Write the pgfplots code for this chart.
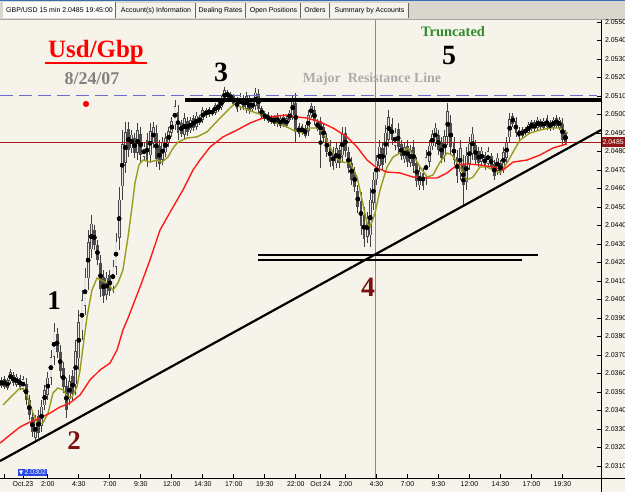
\documentclass[border=0pt]{standalone}
\usepackage{pgfplots}
\pgfplotsset{compat=1.18}
\usepackage{pgfplotstable}
\usepackage{fontspec}
\setmainfont{Liberation Serif}
\newfontfamily\arial{Liberation Sans}
\newfontfamily\dejavu{DejaVu Sans}
\definecolor{bg}{HTML}{F6F4EA}
\definecolor{tabbar}{HTML}{D9D6CD}
\definecolor{tabfill}{HTML}{F3F2ED}
\definecolor{ma1}{HTML}{9A9A1E}
\definecolor{ma2}{HTML}{FF1A1A}
\definecolor{resblue}{HTML}{6C6CD0}
\definecolor{priceline}{HTML}{A81818}
\definecolor{crossline}{HTML}{C07272}
\definecolor{maroon}{HTML}{7A1010}
\definecolor{truncgreen}{HTML}{2E8B2E}
\definecolor{lowblue}{HTML}{2848E0}
\definecolor{pricebox}{HTML}{8E1616}
\definecolor{topblue}{HTML}{3A6EB5}
\definecolor{hollow}{HTML}{E4E4E4}

\pgfplotstableread{
t o h l c
-1.75 2.03534 2.03581 2.03522 2.03569
-1.5 2.03573 2.03587 2.03516 2.03530
-1.25 2.03524 2.03576 2.03511 2.03563
-1.0 2.03560 2.03624 2.03544 2.03608
-0.75 2.03593 2.03608 2.03533 2.03548
-0.5 2.03541 2.03597 2.03527 2.03583
-0.25 2.03576 2.03592 2.03511 2.03527
0 2.03517 2.03587 2.03500 2.03570
0.25 2.03547 2.03576 2.03430 2.03459
0.5 2.03457 2.03484 2.03349 2.03376
0.75 2.03365 2.03392 2.03257 2.03284
1.0 2.03254 2.03376 2.03224 2.03346
1.25 2.03373 2.03403 2.03252 2.03282
1.5 2.03319 2.03457 2.03284 2.03422
1.75 2.03430 2.03538 2.03403 2.03511
2.0 2.03487 2.03608 2.03457 2.03578
2.25 2.03576 2.03727 2.03538 2.03689
2.5 2.03691 2.03873 2.03646 2.03828
2.75 2.03814 2.03846 2.03684 2.03716
3.0 2.03718 2.03754 2.03576 2.03612
3.25 2.03629 2.03662 2.03495 2.03528
3.5 2.03533 2.03576 2.03360 2.03403
3.75 2.03462 2.03592 2.03430 2.03560
4.0 2.03587 2.03619 2.03457 2.03489
4.25 2.03543 2.03781 2.03484 2.03722
4.5 2.03684 2.03943 2.03619 2.03878
4.75 2.03835 2.04051 2.03781 2.03997
5.0 2.03967 2.04170 2.03916 2.04119
5.25 2.04116 2.04376 2.04051 2.04311
5.5 2.04271 2.04457 2.04224 2.04410
5.75 2.04376 2.04403 2.04268 2.04295
6.0 2.04295 2.04322 2.04187 2.04214
6.25 2.04196 2.04241 2.04014 2.04059
6.5 2.04124 2.04160 2.03981 2.04017
6.75 2.04027 2.04149 2.03997 2.04119
7.0 2.04132 2.04160 2.04019 2.04047
7.25 2.04071 2.04214 2.04035 2.04178
7.5 2.04178 2.04359 2.04133 2.04314
7.75 2.04336 2.04608 2.04268 2.04540
8.0 2.04614 2.04916 2.04538 2.04840
8.25 2.04739 2.04960 2.04684 2.04905
8.5 2.04922 2.04960 2.04770 2.04808
8.75 2.04817 2.04916 2.04792 2.04891
9.0 2.04873 2.04900 2.04765 2.04792
9.25 2.04794 2.04954 2.04754 2.04914
9.5 2.04894 2.04932 2.04743 2.04781
9.75 2.04772 2.04846 2.04754 2.04828
10.0 2.04863 2.04900 2.04716 2.04753
10.25 2.04781 2.04954 2.04738 2.04911
10.5 2.04847 2.04960 2.04819 2.04932
10.75 2.04898 2.04943 2.04716 2.04761
11.0 2.04830 2.04862 2.04700 2.04732
11.25 2.04757 2.04879 2.04727 2.04849
11.5 2.04796 2.04900 2.04770 2.04874
11.75 2.04846 2.04932 2.04824 2.04910
12.0 2.04901 2.04987 2.04879 2.04965
12.25 2.04948 2.05078 2.04916 2.05046
12.5 2.05013 2.05051 2.04862 2.04900
12.75 2.04952 2.04970 2.04879 2.04897
13.0 2.04891 2.05008 2.04862 2.04979
13.25 2.04966 2.04987 2.04884 2.04905
13.5 2.04917 2.04987 2.04900 2.04970
13.75 2.04980 2.04997 2.04911 2.04928
14.0 2.04936 2.05014 2.04916 2.04994
14.25 2.04986 2.04997 2.04943 2.04954
14.5 2.04971 2.05041 2.04954 2.05024
14.75 2.05024 2.05035 2.04981 2.04992
15.0 2.04998 2.05041 2.04987 2.05030
15.25 2.05026 2.05035 2.04992 2.05001
15.5 2.05010 2.05062 2.04997 2.05049
15.75 2.05057 2.05068 2.05014 2.05025
16.0 2.05039 2.05100 2.05024 2.05085
16.25 2.05079 2.05149 2.05062 2.05132
16.5 2.05122 2.05132 2.05084 2.05094
16.75 2.05111 2.05122 2.05068 2.05079
17.0 2.05098 2.05111 2.05046 2.05059
17.25 2.05079 2.05095 2.05014 2.05030
17.5 2.05042 2.05116 2.05024 2.05098
17.75 2.05089 2.05105 2.05024 2.05040
18.0 2.05031 2.05122 2.05008 2.05099
18.25 2.05081 2.05100 2.05003 2.05022
18.5 2.05029 2.05089 2.05014 2.05074
18.75 2.05048 2.05143 2.05024 2.05119
19.0 2.05111 2.05138 2.05003 2.05030
19.25 2.05033 2.05046 2.04981 2.04994
19.5 2.05008 2.05019 2.04965 2.04976
19.75 2.05002 2.05014 2.04954 2.04966
20.0 2.04987 2.04997 2.04949 2.04959
20.25 2.04950 2.04997 2.04938 2.04985
20.5 2.04993 2.05008 2.04932 2.04947
20.75 2.04940 2.04992 2.04927 2.04979
21.0 2.04989 2.05003 2.04932 2.04946
21.25 2.04940 2.04992 2.04927 2.04979
21.5 2.04973 2.05024 2.04960 2.05011
21.75 2.04997 2.05105 2.04970 2.05078
22.0 2.05063 2.05116 2.04851 2.04904
22.25 2.04939 2.04954 2.04879 2.04894
22.5 2.04901 2.04949 2.04889 2.04937
22.75 2.04929 2.04943 2.04873 2.04887
23.0 2.04912 2.05024 2.04884 2.04996
23.25 2.04997 2.05062 2.04981 2.05046
23.5 2.05025 2.05046 2.04943 2.04964
23.75 2.04963 2.04976 2.04911 2.04924
24.0 2.04965 2.04987 2.04711 2.04890
24.25 2.04933 2.04954 2.04851 2.04872
24.5 2.04874 2.04900 2.04770 2.04796
24.75 2.04833 2.04862 2.04716 2.04745
25.0 2.04799 2.04824 2.04700 2.04725
25.25 2.04738 2.04846 2.04711 2.04819
25.5 2.04810 2.04835 2.04711 2.04736
25.75 2.04781 2.04932 2.04743 2.04894
26.0 2.04900 2.04932 2.04770 2.04802
26.25 2.04796 2.04824 2.04684 2.04712
26.5 2.04740 2.04770 2.04619 2.04649
26.75 2.04689 2.04716 2.04581 2.04608
27.0 2.04589 2.04619 2.04468 2.04498
27.25 2.04535 2.04581 2.04349 2.04395
27.5 2.04457 2.04500 2.04284 2.04327
27.75 2.04339 2.04473 2.04305 2.04439
28.0 2.04348 2.04603 2.04284 2.04539
28.25 2.04525 2.04689 2.04484 2.04648
28.5 2.04651 2.04781 2.04619 2.04749
28.75 2.04724 2.04862 2.04689 2.04827
29.0 2.04817 2.04846 2.04700 2.04729
29.25 2.04779 2.04943 2.04738 2.04902
29.5 2.04864 2.05024 2.04824 2.04984
29.75 2.04952 2.04981 2.04835 2.04864
30.0 2.04832 2.04927 2.04808 2.04903
30.25 2.04922 2.04954 2.04792 2.04824
30.5 2.04840 2.04862 2.04754 2.04776
30.75 2.04760 2.04846 2.04738 2.04824
31.0 2.04833 2.04862 2.04716 2.04745
31.25 2.04740 2.04835 2.04716 2.04811
31.5 2.04826 2.04862 2.04684 2.04720
31.75 2.04738 2.04770 2.04608 2.04640
32.0 2.04617 2.04716 2.04592 2.04691
32.25 2.04687 2.04711 2.04592 2.04616
32.5 2.04657 2.04808 2.04619 2.04770
32.75 2.04745 2.04862 2.04716 2.04833
33.0 2.04830 2.04916 2.04808 2.04894
33.25 2.04850 2.04954 2.04824 2.04928
33.5 2.04889 2.04916 2.04781 2.04808
33.75 2.04851 2.04879 2.04738 2.04766
34.0 2.04778 2.04916 2.04743 2.04881
34.25 2.04880 2.05062 2.04835 2.05017
34.5 2.04954 2.04997 2.04781 2.04824
34.75 2.04849 2.04879 2.04727 2.04757
35.0 2.04772 2.04808 2.04630 2.04666
35.25 2.04689 2.04862 2.04646 2.04819
35.5 2.04730 2.04781 2.04511 2.04620
35.75 2.04638 2.04824 2.04592 2.04778
36.0 2.04736 2.04879 2.04700 2.04843
36.25 2.04790 2.04932 2.04754 2.04896
36.5 2.04835 2.04862 2.04727 2.04754
36.75 2.04802 2.04824 2.04716 2.04738
37.0 2.04746 2.04824 2.04727 2.04805
37.25 2.04778 2.04797 2.04700 2.04719
37.5 2.04734 2.04824 2.04711 2.04801
37.75 2.04774 2.04792 2.04700 2.04718
38.0 2.04732 2.04754 2.04646 2.04668
38.25 2.04697 2.04792 2.04673 2.04768
38.5 2.04738 2.04754 2.04673 2.04689
38.75 2.04712 2.04824 2.04684 2.04796
39.0 2.04766 2.04879 2.04738 2.04851
39.25 2.04878 2.05008 2.04846 2.04976
39.5 2.04993 2.05008 2.04932 2.04947
39.75 2.04965 2.04987 2.04879 2.04901
40.0 2.04918 2.04932 2.04862 2.04876
40.25 2.04885 2.04932 2.04873 2.04920
40.5 2.04923 2.04932 2.04889 2.04898
40.75 2.04903 2.04960 2.04889 2.04946
41.0 2.04923 2.04970 2.04911 2.04958
41.25 2.04957 2.04970 2.04906 2.04919
41.5 2.04930 2.04987 2.04916 2.04973
41.75 2.04965 2.04976 2.04922 2.04933
42.0 2.04929 2.04981 2.04916 2.04968
42.25 2.04981 2.04997 2.04916 2.04932
42.5 2.04958 2.04970 2.04911 2.04923
42.75 2.04930 2.04987 2.04916 2.04973
43.0 2.04983 2.04997 2.04927 2.04941
43.25 2.04930 2.04987 2.04916 2.04973
43.5 2.04952 2.04981 2.04835 2.04864
43.75 2.04900 2.04916 2.04835 2.04851
}\candles

\begin{document}
\begin{tikzpicture}
\useasboundingbox (0,0) rectangle (625bp,492bp);
% background
\fill[bg] (0,0) rectangle (625bp,472bp);
% tab bar
\fill[tabbar] (0,472bp) rectangle (625bp,492bp);
\fill[topblue] (0,491bp) rectangle (625bp,492bp);
\draw[gray!70, line width=0.8bp] (0,472.4bp) -- (625bp,472.4bp);
\fill[white!92!tabbar] (3bp,474bp) rectangle (115bp,490bp);
\foreach \a/\b in {116/195,196/245,246/300,301/329,330/408}{
  \fill[tabfill] (\a bp,474bp) rectangle (\b bp,488.5bp);
  \draw[gray!80!black, line width=0.6bp] (\b bp,474bp) -- (\b bp,488.5bp);
}
\draw[gray!80!black, line width=0.6bp] (115.5bp,474bp) -- (115.5bp,490bp);
\begin{scope}[every node/.style={font=\arial\fontsize{7}{8}\selectfont, inner sep=0pt, anchor=base}]
\node at (59.5bp,479bp) {GBP/USD 15 min 2.0485 19:45:00};
\node at (156bp,479bp) {Account(s) Information};
\node at (220.5bp,479bp) {Dealing Rates};
\node at (273.5bp,479bp) {Open Positions};
\node at (315bp,479bp) {Orders};
\node at (369.5bp,479bp) {Summary by Accounts};
\end{scope}

\begin{axis}[
  at={(0,14bp)}, anchor=south west,
  width=601bp, height=458bp, scale only axis,
  xmin=-1.855, xmax=46.61, ymin=2.030353, ymax=2.055108,
  axis line style={draw=none},
  tick align=inside, major tick length=4bp,
  xtick pos=left, xticklabel pos=left,
  ytick pos=right, yticklabel pos=right,
  tick style={black, line width=0.7bp},
  xtick={-1.5,0,2,4.5,7,9.5,12,14.5,17,19.5,22,24,26,28.5,31,33.5,36,38.5,41,43.5},
  xticklabels={{},Oct.23,2:00,4:30,7:00,9:30,12:00,14:30,17:00,19:30,22:00,Oct 24,2:00,4:30,7:00,9:30,12:00,14:30,17:00,19:30},
  ytick={2.031,2.032,2.033,2.034,2.035,2.036,2.037,2.038,2.039,2.040,2.041,2.042,2.043,2.044,2.045,2.046,2.047,2.048,2.049,2.050,2.051,2.052,2.053,2.054,2.055},
  yticklabel style={/pgf/number format/fixed, /pgf/number format/fixed zerofill, /pgf/number format/precision=4, xshift=0.5bp},
  /pgf/number format/assume math mode=true,
  tick label style={font=\arial\fontsize{7}{8}\selectfont},
  xticklabel style={yshift=-0.5bp},
  scaled y ticks=false,
  clip=true,
]
% candle wicks
\addplot[only marks, mark=none, forget plot,
  error bars/.cd, y dir=both, y explicit,
  error bar style={black!75, line width=0.8bp}, error mark=none]
  table[x=t, y expr={(\thisrow{h}+\thisrow{l})/2}, y error expr={(\thisrow{h}-\thisrow{l})/2}] {\candles};
% candle bodies
\addplot[only marks, mark=none, forget plot,
  error bars/.cd, y dir=both, y explicit,
  error bar style={black!70, line width=2.8bp}, error mark=none]
  table[x=t, y expr={(\thisrow{o}+\thisrow{c})/2}, y error expr={abs(\thisrow{c}-\thisrow{o})/2}] {\candles};
% hollow up candles
\addplot[only marks, mark=none, forget plot,
  error bars/.cd, y dir=both, y explicit,
  error bar style={hollow, line width=1.2bp}, error mark=none]
  table[x=t, y expr={(\thisrow{o}+\thisrow{c})/2}, y error expr={max((\thisrow{c}-\thisrow{o})/2-0.00003,0)}] {\candles};

% price line and crosshair
\addplot[priceline, line width=0.8bp] coordinates {(-1.855,2.04851) (46.61,2.04851)};
\addplot[crossline, line width=0.9bp] coordinates {(28.4,2.030353) (28.4,2.055108)};

% moving averages
\addplot[ma1, line width=1.4bp, line join=round] coordinates {
(-1.61,2.03430) (-1.05,2.03468) (-0.24,2.03522) (0.16,2.03511) (0.40,2.03468) (0.81,2.03386) (1.21,2.03322) (1.61,2.03333) (2.02,2.03386) (2.42,2.03495) (2.82,2.03522) (3.23,2.03511) (3.63,2.03473) (3.95,2.03473) (4.35,2.03527) (4.60,2.03619) (4.84,2.03743) (5.16,2.03905) (5.56,2.04051) (5.97,2.04116) (6.77,2.04089) (7.26,2.04051) (7.66,2.04089) (8.06,2.04160) (8.47,2.04338) (8.79,2.04500) (9.03,2.04630) (9.35,2.04727) (9.68,2.04754) (10.24,2.04743) (10.81,2.04754) (11.21,2.04743) (11.69,2.04770) (12.10,2.04819) (12.50,2.04851) (13.23,2.04873) (14.03,2.04879) (14.84,2.04906) (15.89,2.04981) (16.69,2.05035) (17.10,2.05062) (17.50,2.05041) (18.55,2.05014) (19.35,2.04997) (20.16,2.04960) (20.97,2.04943) (21.77,2.04916) (22.58,2.04900) (23.15,2.04927) (23.71,2.04927) (24.19,2.04906) (24.76,2.04824) (25.16,2.04770) (25.73,2.04743) (26.37,2.04738) (26.94,2.04662) (27.34,2.04538) (27.74,2.04413) (27.98,2.04392) (28.39,2.04468) (28.79,2.04592) (29.35,2.04716) (29.84,2.04770) (30.40,2.04792) (31.05,2.04819) (31.45,2.04781) (32.02,2.04716) (32.58,2.04662) (33.06,2.04673) (33.63,2.04743) (34.19,2.04792) (34.60,2.04781) (35.24,2.04716) (35.81,2.04646) (36.29,2.04662) (36.85,2.04716) (37.42,2.04716) (37.90,2.04700) (38.47,2.04684) (39.03,2.04738) (39.52,2.04797) (40.08,2.04862) (40.89,2.04900) (41.69,2.04916) (42.50,2.04927) (43.31,2.04927) (43.71,2.04906) (43.95,2.04900)};
\addplot[ma2, line width=1.4bp, line join=round] coordinates {
(-1.85,2.03224) (-1.05,2.03268) (-0.24,2.03311) (0.56,2.03338) (1.37,2.03360) (2.18,2.03386) (2.98,2.03419) (3.79,2.03441) (4.60,2.03484) (5.40,2.03565) (6.21,2.03619) (7.02,2.03657) (7.58,2.03727) (8.06,2.03835) (8.47,2.03900) (9.44,2.04068) (10.24,2.04214) (11.05,2.04376) (12.10,2.04500) (12.90,2.04592) (13.71,2.04700) (14.27,2.04754) (15.08,2.04824) (16.13,2.04879) (17.26,2.04916) (18.31,2.04954) (19.35,2.04981) (20.48,2.04992) (21.29,2.04997) (22.10,2.04987) (22.90,2.04981) (23.95,2.04960) (25.00,2.04927) (26.13,2.04879) (26.94,2.04824) (27.74,2.04754) (28.55,2.04711) (29.35,2.04689) (30.40,2.04684) (31.45,2.04662) (32.58,2.04657) (33.39,2.04657) (34.19,2.04684) (35.00,2.04727) (35.81,2.04733) (36.85,2.04727) (37.90,2.04716) (38.71,2.04700) (39.52,2.04743) (40.65,2.04754) (41.69,2.04781) (42.74,2.04819) (43.87,2.04841)};

% resistance dashed line
\addplot[resblue, line width=1bp, dash pattern=on 13bp off 6bp] coordinates {(-1.855,2.05105) (46.3,2.05105)};
% thick resistance line
\addplot[black, line width=3.5bp] coordinates {(13.06,2.05078) (46.61,2.05078)};
% trend line
\addplot[black, line width=2.2bp] coordinates {(-1.855,2.03127) (46.61,2.04916)};
% support lines
\addplot[black, line width=1.8bp] coordinates {(18.95,2.04241) (41.53,2.04241)};
\addplot[black, line width=1.8bp] coordinates {(18.95,2.04214) (40.24,2.04214)};
% red dot
\addplot[only marks, mark=*, mark size=2.8bp, red, mark options={fill=red, draw=red}] coordinates {(5.08,2.05057)};
\end{axis}

% axis lines
\draw[black, line width=0.8bp] (601bp,0) -- (601bp,472bp);
\draw[black, line width=0.8bp] (0,14bp) -- (625bp,14bp);

% price box
\node[fill=pricebox, text=white, inner sep=0.8bp, anchor=west, minimum height=10bp, font=\arial\fontsize{7}{8}\selectfont] at (601.5bp,350bp) {2.0485};
% low label
\node[fill=lowblue, text=white, inner xsep=1bp, inner ysep=0.8bp, anchor=south west, font=\arial\fontsize{7}{8}\selectfont] at (18bp,15.5bp) {{\dejavu\fontsize{5.5}{6}\selectfont ▼}\,2.0302};

% annotations
\node[text=red, font=\bfseries\fontsize{25}{25}\selectfont, anchor=base, inner sep=0pt] at (96bp,434bp) {Usd/Gbp};
\draw[red, line width=2bp] (45bp,429bp) -- (147bp,429bp);
\node[text=gray, font=\bfseries\fontsize{18}{18}\selectfont, anchor=base, inner sep=0pt] at (92bp,407bp) {8/24/07};
\node[text=black, font=\bfseries\fontsize{28}{28}\selectfont, anchor=base, inner sep=0pt] at (221bp,410bp) {3};
\node[text=gray!65, font=\bfseries\fontsize{14}{14}\selectfont, anchor=base, inner sep=0pt] at (372bp,409bp) {Major\ \ Resistance Line};
\node[text=truncgreen, font=\bfseries\fontsize{14.5}{15}\selectfont, anchor=base, inner sep=0pt] at (453bp,455bp) {Truncated};
\node[text=black, font=\bfseries\fontsize{28}{28}\selectfont, anchor=base, inner sep=0pt] at (449bp,427bp) {5};
\node[text=black, font=\bfseries\fontsize{27}{27}\selectfont, anchor=base, inner sep=0pt] at (54bp,182bp) {1};
\node[text=maroon, font=\bfseries\fontsize{27}{27}\selectfont, anchor=base, inner sep=0pt] at (74bp,42bp) {2};
\node[text=maroon, font=\bfseries\fontsize{28}{28}\selectfont, anchor=base, inner sep=0pt] at (368bp,195bp) {4};
\end{tikzpicture}
\end{document}
